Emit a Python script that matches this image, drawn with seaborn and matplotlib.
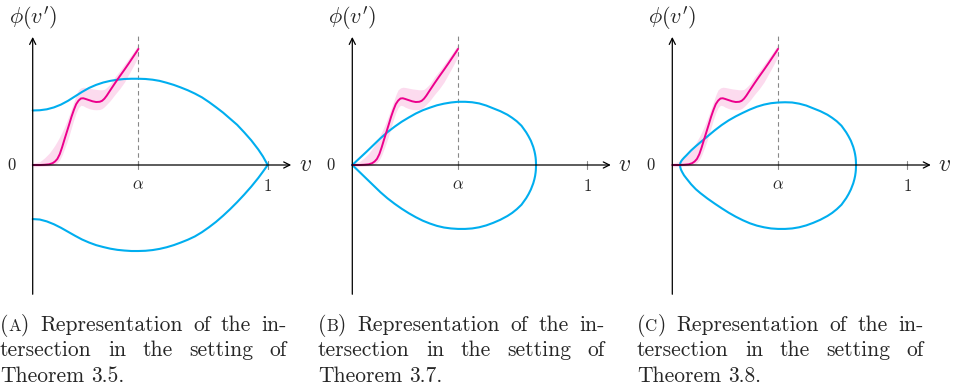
import matplotlib
matplotlib.use("Agg")
import matplotlib.pyplot as plt
from matplotlib.transforms import IdentityTransform
import seaborn as sns
import numpy as np
import pandas as pd

sns.set_theme(style="white")
plt.rcParams['mathtext.fontset'] = 'cm'
plt.rcParams['font.family'] = ['cmr10', 'DejaVu Serif']
plt.rcParams['axes.unicode_minus'] = False

CYAN = '#00AEEF'
MAGENTA = '#EC008C'
ALPHA = 0.45

# pink estimate with its shaded band (same in all three panels)
pink_v = [0, 0.03, 0.05, 0.07, 0.085, 0.095, 0.105, 0.115, 0.125, 0.135, 0.145, 0.155, 0.165, 0.175, 0.185,
          0.195, 0.205, 0.215, 0.225, 0.24, 0.255, 0.27, 0.285, 0.295, 0.305, 0.315, 0.33, 0.35, 0.37, 0.39,
          0.41, 0.43, 0.45]
pink_y = [0, 0, 0.001, 0.003, 0.008, 0.015, 0.026, 0.046, 0.075, 0.108, 0.140, 0.172, 0.205, 0.234, 0.259,
          0.274, 0.283, 0.284, 0.281, 0.276, 0.271, 0.268, 0.269, 0.273, 0.282, 0.295, 0.318, 0.348, 0.377, 0.405,
          0.434, 0.464, 0.494]
band_hi = [0.008, 0.014, 0.030, 0.050, 0.070, 0.085, 0.102, 0.120, 0.140, 0.162, 0.186, 0.212, 0.240, 0.268, 0.298,
           0.320, 0.328, 0.331, 0.330, 0.327, 0.324, 0.322, 0.320, 0.320, 0.322, 0.330, 0.345, 0.375, 0.400, 0.428,
           0.455, 0.483, 0.514]
band_lo = [-0.008, -0.006, -0.005, -0.004, -0.002, 0.002, 0.010, 0.022, 0.042, 0.068, 0.095, 0.125, 0.160, 0.193, 0.222,
           0.244, 0.254, 0.252, 0.246, 0.240, 0.236, 0.235, 0.236, 0.240, 0.248, 0.258, 0.274, 0.300, 0.324, 0.352,
           0.388, 0.424, 0.462]

# panel A: two branches meeting at v = 1
a_up_v = [0, 0.03, 0.06, 0.09, 0.12, 0.15, 0.18, 0.21, 0.24, 0.27, 0.30, 0.33, 0.36, 0.39, 0.42, 0.45,
          0.48, 0.51, 0.54, 0.57, 0.60, 0.63, 0.66, 0.69, 0.72, 0.75, 0.78, 0.81, 0.84, 0.87, 0.90,
          0.93, 0.96, 0.98, 1.0]
a_up_y = [0.232, 0.233, 0.237, 0.245, 0.257, 0.273, 0.292, 0.311, 0.328, 0.341, 0.351, 0.358, 0.363, 0.366, 0.367, 0.367,
          0.366, 0.363, 0.358, 0.350, 0.341, 0.330, 0.318, 0.304, 0.288, 0.268, 0.246, 0.223, 0.197, 0.171, 0.139,
          0.105, 0.066, 0.036, 0.0]
a_lo_v = [0, 0.03, 0.06, 0.09, 0.12, 0.15, 0.18, 0.21, 0.24, 0.27, 0.30, 0.33, 0.36, 0.39, 0.42, 0.45,
          0.48, 0.51, 0.54, 0.57, 0.60, 0.63, 0.66, 0.69, 0.72, 0.75, 0.78, 0.81, 0.84, 0.87, 0.90,
          0.93, 0.96, 0.98, 1.0]
a_lo_y = [-0.230, -0.232, -0.240, -0.252, -0.267, -0.284, -0.301, -0.317, -0.330, -0.341, -0.349, -0.356, -0.361, -0.364, -0.366, -0.366,
          -0.365, -0.362, -0.357, -0.350, -0.341, -0.330, -0.318, -0.304, -0.286, -0.265, -0.242, -0.216, -0.188, -0.158, -0.126,
          -0.092, -0.055, -0.028, 0.0]

# panel B: closed loop starting at the origin
b_up_v = [0, 0.03, 0.06, 0.09, 0.12, 0.15, 0.18, 0.21, 0.24, 0.27, 0.30, 0.33, 0.36, 0.39, 0.42, 0.45,
          0.48, 0.51, 0.54, 0.57, 0.60, 0.63, 0.66, 0.68, 0.70, 0.72, 0.74, 0.75, 0.76, 0.765, 0.77, 0.775,
          0.778, 0.780, 0.781, 0.782]
b_up_y = [0, 0.028, 0.056, 0.085, 0.114, 0.140, 0.163, 0.184, 0.202, 0.219, 0.233, 0.244, 0.254, 0.261, 0.266, 0.269,
          0.269, 0.267, 0.262, 0.253, 0.241, 0.229, 0.214, 0.201, 0.186, 0.167, 0.139, 0.122, 0.103, 0.090, 0.077, 0.059,
          0.045, 0.032, 0.022, 0]
b_lo_v = [0, 0.03, 0.06, 0.09, 0.12, 0.15, 0.18, 0.21, 0.24, 0.27, 0.30, 0.33, 0.36, 0.39, 0.42, 0.45,
          0.48, 0.51, 0.54, 0.57, 0.60, 0.63, 0.66, 0.68, 0.70, 0.72, 0.74, 0.75, 0.76, 0.765, 0.77, 0.775,
          0.778, 0.780, 0.781, 0.782]
b_lo_y = [0, -0.029, -0.058, -0.087, -0.116, -0.142, -0.165, -0.186, -0.205, -0.222, -0.237, -0.249, -0.259, -0.266, -0.270, -0.272,
          -0.272, -0.270, -0.265, -0.257, -0.246, -0.233, -0.217, -0.204, -0.188, -0.169, -0.141, -0.124, -0.104, -0.091, -0.078, -0.060,
          -0.046, -0.032, -0.022, 0]

# panel C: closed loop detached from the origin
c_up_v = [0.033, 0.034, 0.037, 0.042, 0.05, 0.06, 0.08, 0.10, 0.12, 0.15, 0.18, 0.21, 0.24, 0.27, 0.30, 0.33,
          0.36, 0.39, 0.42, 0.45, 0.48, 0.51, 0.54, 0.57, 0.60, 0.63, 0.66, 0.68, 0.70, 0.72, 0.74, 0.75,
          0.76, 0.765, 0.77, 0.775, 0.778, 0.780, 0.781, 0.782]
c_up_y = [0, 0.008, 0.015, 0.022, 0.031, 0.041, 0.062, 0.080, 0.097, 0.122, 0.147, 0.170, 0.190, 0.207, 0.222, 0.236,
          0.248, 0.257, 0.263, 0.266, 0.267, 0.266, 0.261, 0.253, 0.241, 0.229, 0.214, 0.201, 0.186, 0.167, 0.139, 0.122,
          0.103, 0.090, 0.077, 0.059, 0.045, 0.032, 0.022, 0]
c_lo_v = [0.033, 0.034, 0.037, 0.042, 0.05, 0.06, 0.08, 0.10, 0.12, 0.15, 0.18, 0.21, 0.24, 0.27, 0.30, 0.33,
          0.36, 0.39, 0.42, 0.45, 0.48, 0.51, 0.54, 0.57, 0.60, 0.63, 0.66, 0.68, 0.70, 0.72, 0.74, 0.75,
          0.76, 0.765, 0.77, 0.775, 0.778, 0.780, 0.781, 0.782]
c_lo_y = [0, -0.010, -0.020, -0.030, -0.044, -0.057, -0.082, -0.103, -0.120, -0.143, -0.164, -0.184, -0.203, -0.220, -0.235, -0.248,
          -0.258, -0.265, -0.270, -0.272, -0.272, -0.270, -0.265, -0.257, -0.246, -0.233, -0.217, -0.204, -0.188, -0.169, -0.141, -0.124,
          -0.104, -0.091, -0.078, -0.060, -0.046, -0.032, -0.022, 0]

captions = [
    ("A", "3.5."),
    ("B", "3.7."),
    ("C", "3.8."),
]

W, H = 969, 391
S = 235.0  # px per unit
OY = 165.0
panels = [
    dict(ox=32.7, curves=[(a_up_v, a_up_y), (a_lo_v, a_lo_y)], cap_x=0),
    dict(ox=352.3, curves=[(b_up_v + b_lo_v[::-1], b_up_y + b_lo_y[::-1])], cap_x=318),
    dict(ox=672.3, curves=[(c_up_v + c_lo_v[::-1], c_up_y + c_lo_y[::-1])], cap_x=637),
]

fig = plt.figure(figsize=(W / 100, H / 100), dpi=100)

XMIN, XMAX, YMIN, YMAX = -0.14, 1.25, -0.62, 0.70


def draw_panel(p):
    left = p['ox'] + XMIN * S
    ax = fig.add_axes([left / W, 1 - (OY - YMIN * S) / H, (XMAX - XMIN) * S / W, (YMAX - YMIN) * S / H])
    ax.set_xlim(XMIN, XMAX)
    ax.set_ylim(YMIN, YMAX)
    ax.patch.set_alpha(0)

    arrow = dict(arrowstyle='->', lw=0.9, color='black', shrinkA=0, shrinkB=0, mutation_scale=11)
    ax.annotate('', xy=(1.10, 0), xytext=(0, 0), arrowprops=arrow)
    ax.annotate('', xy=(0, 0.545), xytext=(0, -0.55), arrowprops=arrow)

    # alpha marker and tick at 1
    ax.plot([ALPHA, ALPHA], [0, 0.553], color='#888888', lw=0.8, dashes=(4, 3))
    for t in (ALPHA, 1.0):
        ax.plot([t, t], [-0.017, 0.017], color='#888888', lw=0.8)

    ax.fill_between(pink_v, band_lo, band_hi, color=MAGENTA, alpha=0.14, lw=0)
    for vv, yy in p['curves']:
        sns.lineplot(x=vv, y=yy, sort=False, ax=ax, color=CYAN, lw=1.5, estimator=None)
    sns.lineplot(x=pink_v, y=pink_y, sort=False, ax=ax, color=MAGENTA, lw=1.4, estimator=None)
    ax.axis('off')

    ax.text(-0.09, 0, '$0$', fontsize=12, ha='center', va='center')
    ax.text(ALPHA, -0.085, r'$\alpha$', fontsize=12, ha='center', va='center')
    ax.text(1.0, -0.09, '$1$', fontsize=12, ha='center', va='center')
    ax.text(1.16, 0.0, '$v$', fontsize=17, ha='center', va='center')
    ax.text(0.0, 0.625, r"$\phi(v')$", fontsize=16, ha='center', va='center')


for p in panels:
    draw_panel(p)

# captions, justified like the LaTeX subcaptions
renderer = fig.canvas.get_renderer()
FS = 15.5
CAP_W = 287
FAM = ['cmr10', 'DejaVu Serif']


def draw_word(pieces, x, y):
    w = 0
    for txt, size in pieces:
        t = fig.text(x + w, H - y, txt, fontsize=size, transform=IdentityTransform(),
                     ha='left', va='baseline', family=FAM)
        w += t.get_window_extent(renderer).width
    return w


def word_width(pieces):
    w = 0
    for txt, size in pieces:
        t = fig.text(0, 0, txt, fontsize=size, transform=IdentityTransform(), family=FAM)
        w += t.get_window_extent(renderer).width
        t.remove()
    return w


def draw_line(words, x0, y, width=None):
    widths = [word_width(w) for w in words]
    if width is None:
        gap = FS * 0.333 * 100 / 72
    else:
        gap = (width - sum(widths)) / (len(words) - 1)
    x = x0
    for w, ww in zip(words, widths):
        draw_word(w, x, y)
        x += ww + gap


for p, (letter, num) in zip(panels, captions):
    x0 = p['cap_x']
    line1 = [[('(', FS), (letter, FS * 0.78), (')', FS)]] + [[(s, FS)] for s in 'Representation of the in-'.split()]
    line2 = [[(s, FS)] for s in 'tersection in the setting of'.split()]
    line3 = [[(s, FS)] for s in ('Theorem', num)]
    draw_line(line1, x0, 331, CAP_W)
    draw_line(line2, x0, 356, CAP_W)
    draw_line(line3, x0, 382)

fig.savefig('out.png', dpi=100)
